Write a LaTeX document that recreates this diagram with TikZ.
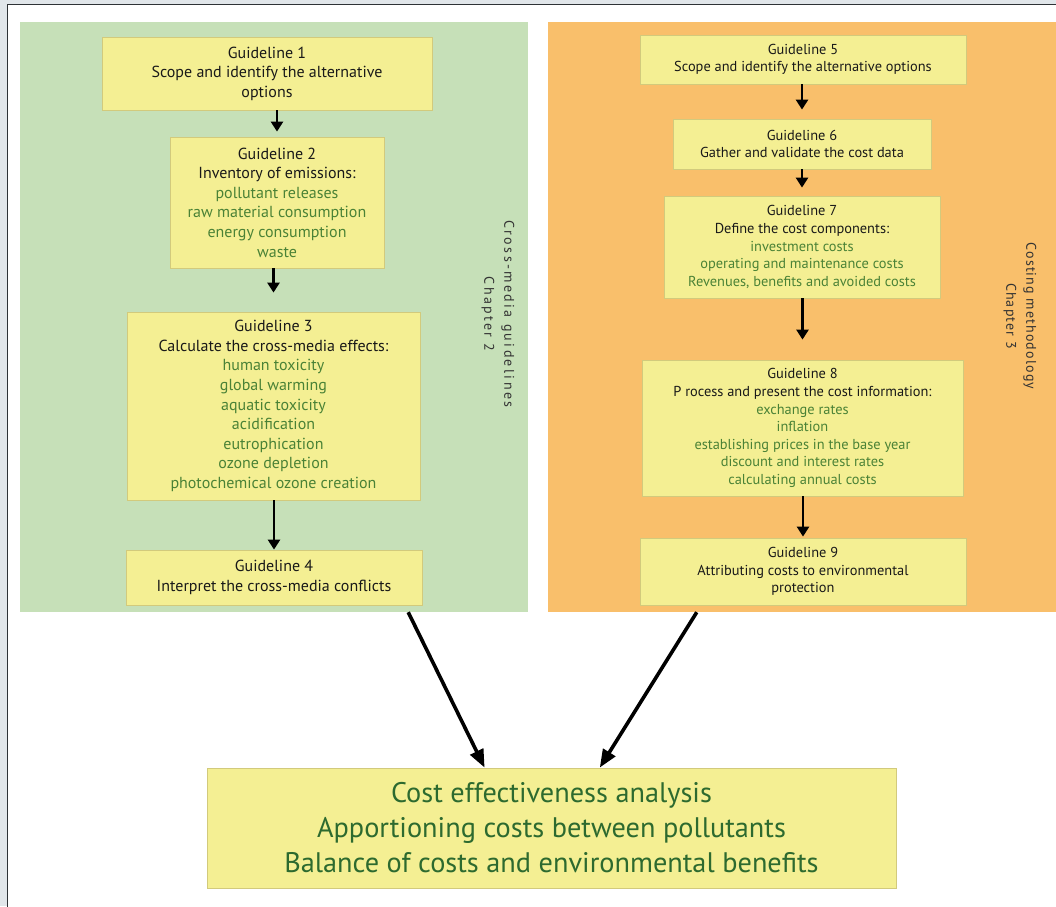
\documentclass[tikz,border=0pt]{standalone}
\usepackage{fontspec}
\setmainfont{PT Sans}
\newfontfamily\spacedfont[LetterSpace=8]{PT Sans}
\newfontfamily\widefont[LetterSpace=17]{PT Sans}
\usetikzlibrary{positioning,arrows.meta,calc}

\definecolor{panelgreen}{HTML}{C6E0B8}
\definecolor{panelorange}{HTML}{F9BF6B}
\definecolor{boxyellow}{HTML}{F4EF93}
\definecolor{boxline}{HTML}{D2CA7C}
\definecolor{itemgreen}{HTML}{4A8236}
\definecolor{resultgreen}{HTML}{2D6A2F}
\definecolor{pagegray}{HTML}{E1E6EA}
\definecolor{frameline}{HTML}{2E3236}

\newcommand{\itm}[1]{\textcolor{itemgreen}{#1}}

\tikzset{
  guide/.style={draw=boxline, line width=0.8pt, fill=boxyellow, align=center, inner sep=0pt, text=black!90},
  leftguide/.style={guide, font=\fontsize{16}{19.6}\selectfont},
  rightguide/.style={guide, font=\fontsize{14.4}{17.6}\selectfont},
  panel/.style={inner sep=0pt, draw=none},
  flow/.style={line width=2.6pt, -{Triangle[width=12pt,length=10pt]}},
  bigflow/.style={line width=3.6pt, -{Triangle[width=14pt,length=18pt]}},
  chapter/.style={rotate=-90, align=center, font=\spacedfont\fontsize{14}{20}\selectfont, text=black!80},
}

\begin{document}
\begin{tikzpicture}[x=1pt, y=-1pt]

            % page and frame
            \useasboundingbox (0,0) rectangle (1056,906);
            \clip (0,0) rectangle (1056,906);
            \fill[pagegray] (0,0) rectangle (1056,906);
            \draw[frameline, line width=1.5pt, fill=white] (7.5,4.5) rectangle (1080,930);

            % panels
            \node[panel, fill=panelgreen, minimum width=508pt, minimum height=590pt] (media) at (274,317) {};
            \node[panel, fill=panelorange, minimum width=508pt, minimum height=590pt] (costing) at (802,317) {};

            % chapter labels
            \node[chapter, font=\widefont\fontsize{14}{20}\selectfont] (media-label) at (498,314) {Cross-media guidelines\\Chapter 2};
            \node[chapter] (costing-label) at (1020,316) {Costing methodology\\Chapter 3};

            % cross-media guidelines
            \node[leftguide, minimum width=330pt, minimum height=73pt] (g1) at (267,73.5)
                {Guideline 1\\Scope and identify the alternative\\options};
            \node[leftguide, minimum width=214pt, minimum height=131pt] (g2) at (277,202.5)
                {Guideline 2\\Inventory of emissions:\\\itm{pollutant releases}\\\itm{raw material consumption}\\\itm{energy consumption}\\\itm{waste}};
            \node[leftguide, minimum width=293pt, minimum height=188pt] (g3) at (273.5,406)
                {Guideline 3\\Calculate the cross-media effects:\\\itm{human toxicity}\\\itm{global warming}\\\itm{aquatic toxicity}\\\itm{acidification}\\\itm{eutrophication}\\\itm{ozone depletion}\\\itm{photochemical ozone creation}};
            \node[leftguide, minimum width=296pt, minimum height=55pt] (g4) at (274,577.5)
                {Guideline 4\\Interpret the cross-media conflicts};

            % costing methodology
            \node[rightguide, minimum width=326pt, minimum height=49pt] (g5) at (803,59.5)
                {Guideline 5\\Scope and identify the alternative options};
            \node[rightguide, minimum width=258pt, minimum height=50pt] (g6) at (802,144)
                {Guideline 6\\Gather and validate the cost data};
            \node[rightguide, minimum width=276pt, minimum height=102pt] (g7) at (802,247)
                {Guideline 7\\Define the cost components:\\\itm{investment costs}\\\itm{operating and maintenance costs}\\\itm{Revenues, benefits and avoided costs}};
            \node[rightguide, minimum width=321pt, minimum height=136pt] (g8) at (802.5,428)
                {Guideline 8\\P rocess and present the cost information:\\\itm{exchange rates}\\\itm{inflation}\\\itm{establishing prices in the base year}\\\itm{discount and interest rates}\\\itm{calculating annual costs}};
            \node[rightguide, minimum width=326pt, minimum height=67pt] (g9) at (803,571.5)
                {Guideline 9\\Attributing costs to environmental\\protection};

            % result
            \node[guide, minimum width=689pt, minimum height=120pt, text=resultgreen,
                  font=\fontsize{28.3}{35}\selectfont] (result) at (551.5,828)
                {Cost effectiveness analysis\\Apportioning costs between pollutants\\Balance of costs and environmental benefits};

            % arrows inside the panels
            \foreach \a/\b/\gap in {g1/g2/5, g2/g3/19, g3/g4/0, g5/g6/9, g6/g7/8, g7/g8/20, g8/g9/1}
                \draw[flow, shorten >=\gap pt] (\a.south -| \b) -- (\b.north);

            % arrows to the result
            \draw[bigflow] ($(media.south west)!0.764!(media.south east)$) -- ($(result.north west)!0.403!(result.north east)$);
            \draw[bigflow] ($(costing.south west)!0.293!(costing.south east)$) -- ($(result.north west)!0.57!(result.north east)$);

\end{tikzpicture}
\end{document}
